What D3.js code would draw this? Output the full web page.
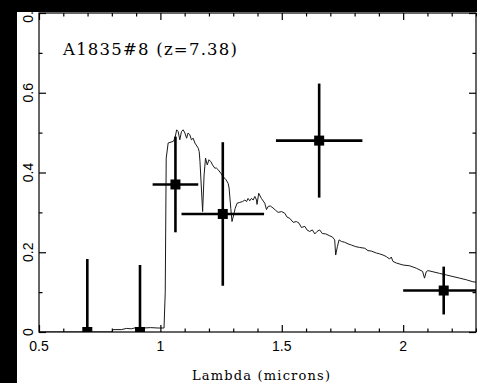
<!DOCTYPE html>
<html>
<head>
<meta charset="utf-8">
<script src="https://cdn.jsdelivr.net/npm/d3@7"></script>
<style>
  html, body { margin: 0; padding: 0; background: #fff; }
  svg { display: block; }
</style>
</head>
<body>
<svg id="chart" width="477" height="383"></svg>
<script>
// Model spectrum (wavelength in microns, flux)
const specLambda = [0.50,0.80,0.805,0.84,0.86,0.88,0.90,0.93,0.96,0.99,1.015,1.020,1.024,1.032,1.053,1.060,1.067,1.073,1.080,1.087,1.094,1.101,1.108,1.114,1.121,1.128,1.135,1.142,1.156,1.160,1.163,1.174,1.180,1.186,1.193,1.200,1.208,1.215,1.224,1.231,1.238,1.249,1.258,1.270,1.279,1.283,1.290,1.295,1.302,1.308,1.316,1.327,1.338,1.348,1.355,1.361,1.368,1.375,1.382,1.389,1.396,1.398,1.405,1.416,1.430,1.437,1.444,1.453,1.464,1.475,1.485,1.499,1.512,1.522,1.533,1.547,1.560,1.571,1.581,1.595,1.604,1.615,1.626,1.636,1.645,1.656,1.667,1.681,1.698,1.709,1.718,1.722,1.729,1.736,1.746,1.759,1.773,1.787,1.805,1.821,1.842,1.855,1.869,1.890,1.903,1.917,1.931,1.944,1.951,1.958,1.972,1.999,2.027,2.054,2.080,2.088,2.095,2.102,2.123,2.150,2.178,2.205,2.233,2.260,2.287,2.301];
const specFlux = [0.000,0.000,0.006,0.006,0.009,0.008,0.011,0.010,0.011,0.010,0.010,0.100,0.436,0.474,0.478,0.486,0.507,0.503,0.482,0.503,0.507,0.499,0.486,0.499,0.495,0.482,0.486,0.474,0.461,0.452,0.428,0.302,0.394,0.436,0.419,0.432,0.427,0.419,0.411,0.411,0.407,0.398,0.390,0.382,0.373,0.361,0.310,0.277,0.294,0.310,0.323,0.325,0.327,0.331,0.327,0.335,0.329,0.335,0.331,0.340,0.331,0.320,0.348,0.335,0.323,0.307,0.315,0.316,0.311,0.305,0.300,0.302,0.298,0.288,0.285,0.275,0.277,0.273,0.262,0.265,0.256,0.252,0.256,0.246,0.252,0.256,0.247,0.246,0.241,0.238,0.231,0.193,0.214,0.231,0.227,0.225,0.221,0.218,0.214,0.212,0.210,0.204,0.203,0.198,0.196,0.193,0.189,0.183,0.188,0.177,0.173,0.168,0.166,0.160,0.152,0.135,0.151,0.154,0.151,0.147,0.143,0.139,0.135,0.131,0.126,0.125];

// Photometric measurements
const photLambda = [0.699, 0.916, 1.062, 1.257, 1.654, 2.167];
const photFlux   = [0.000, 0.000, 0.370, 0.296, 0.480, 0.104];
const photFluxErr = [0.183, 0.168, 0.120, 0.180, 0.143, 0.060];
const photBandHalf = [0, 0, 0.094, 0.170, 0.178, 0.167];

// Axis ticks
const xMajor = [0.5, 1, 1.5, 2];
const xMajorLabels = ["0.5", "1", "1.5", "2"];
const yMajor = [0, 0.2, 0.4, 0.6, 0.8];
const yMajorLabels = ["0", "0.2", "0.4", "0.6", "0.8"];

const titleText = "A1835#8 (z=7.38)";
const xTitle = "Lambda (microns)";

const svg = d3.select("#chart");
const W = 477, H = 383;
const padL = 39, padR = 476, padT = 13, padB = 332;

svg.append("rect").attr("width", W).attr("height", H).attr("fill", "#fff");

const x = d3.scaleLinear().domain([0.5, 2.3]).range([padL, padR]);
const y = d3.scaleLinear().domain([0, 0.8]).range([padB, padT]);

const xMinor = d3.range(0.5, 2.301, 0.1).map(v => +v.toFixed(2)).filter(v => !xMajor.some(m => Math.abs(m - v) < 1e-6));
const yMinor = d3.range(0, 0.801, 0.1).map(v => +v.toFixed(2)).filter(v => !yMajor.some(m => Math.abs(m - v) < 1e-6));

svg.append("defs").append("clipPath").attr("id", "plotClip")
  .append("rect").attr("x", padL).attr("y", padT).attr("width", padR - padL).attr("height", padB - padT);

const plot = svg.append("g").attr("clip-path", "url(#plotClip)");

// spectrum
const line = d3.line().x((d, i) => x(specLambda[i])).y(d => y(d));
plot.append("path")
  .datum(specFlux)
  .attr("d", line)
  .attr("fill", "none")
  .attr("stroke", "#1a1a1a")
  .attr("stroke-width", 1)
  .attr("stroke-linejoin", "round");

// error bars and points
const pts = photLambda.map((l, i) => ({l, f: photFlux[i], e: photFluxErr[i], b: photBandHalf[i]}));
const eb = plot.append("g").attr("stroke", "#000").attr("stroke-width", 2.6);
eb.selectAll("line.v").data(pts).join("line")
  .attr("x1", d => x(d.l)).attr("x2", d => x(d.l))
  .attr("y1", d => y(d.f - d.e)).attr("y2", d => y(d.f + d.e));
eb.selectAll("line.h").data(pts.filter(d => d.b > 0)).join("line")
  .attr("x1", d => x(d.l - d.b)).attr("x2", d => x(d.l + d.b))
  .attr("y1", d => y(d.f)).attr("y2", d => y(d.f));
plot.selectAll("rect.pt").data(pts).join("rect")
  .attr("x", d => x(d.l) - 5).attr("y", d => y(d.f) - 5)
  .attr("width", 10).attr("height", 10).attr("fill", "#000");

// frame
svg.append("rect").attr("x", padL).attr("y", padT).attr("width", padR - padL).attr("height", padB - padT)
  .attr("fill", "none").attr("stroke", "#000").attr("stroke-width", 1.2);

// axes with inward ticks on all four sides
const axisStyle = g => {
  g.select(".domain").remove();
  g.selectAll("line").attr("stroke", "#000").attr("stroke-width", 1.2);
};
svg.append("g").attr("transform", `translate(0,${padB})`)
  .call(d3.axisTop(x).tickValues(xMajor).tickSize(7).tickFormat("")).call(axisStyle);
svg.append("g").attr("transform", `translate(0,${padB})`)
  .call(d3.axisTop(x).tickValues(xMinor).tickSize(3.5).tickFormat("")).call(axisStyle);
svg.append("g").attr("transform", `translate(0,${padT})`)
  .call(d3.axisBottom(x).tickValues(xMajor).tickSize(7).tickFormat("")).call(axisStyle);
svg.append("g").attr("transform", `translate(0,${padT})`)
  .call(d3.axisBottom(x).tickValues(xMinor).tickSize(3.5).tickFormat("")).call(axisStyle);
svg.append("g").attr("transform", `translate(${padL},0)`)
  .call(d3.axisRight(y).tickValues(yMajor).tickSize(7).tickFormat("")).call(axisStyle);
svg.append("g").attr("transform", `translate(${padL},0)`)
  .call(d3.axisRight(y).tickValues(yMinor).tickSize(3.5).tickFormat("")).call(axisStyle);
svg.append("g").attr("transform", `translate(${padR},0)`)
  .call(d3.axisLeft(y).tickValues(yMajor).tickSize(7).tickFormat("")).call(axisStyle);
svg.append("g").attr("transform", `translate(${padR},0)`)
  .call(d3.axisLeft(y).tickValues(yMinor).tickSize(3.5).tickFormat("")).call(axisStyle);

// tick labels
svg.append("g").selectAll("text").data(xMajor).join("text")
  .attr("x", d => x(d)).attr("y", 351)
  .attr("text-anchor", "middle")
  .attr("font-family", "Liberation Sans, Arial, sans-serif")
  .attr("font-size", 14)
  .text((d, i) => xMajorLabels[i]);

svg.append("g").selectAll("text").data(yMajor).join("text")
  .attr("transform", d => `translate(33,${y(d)}) rotate(-90)`)
  .attr("text-anchor", "middle")
  .attr("font-family", "Liberation Sans, Arial, sans-serif")
  .attr("font-size", 14)
  .text((d, i) => yMajorLabels[i]);

// titles (typewriter-style serif lettering)
svg.append("text").attr("x", 63).attr("y", 55)
  .attr("font-family", "DejaVu Serif, serif")
  .attr("font-size", 16.5)
  .attr("textLength", 174)
  .attr("lengthAdjust", "spacing")
  .attr("fill", "#000")
  .text(titleText);

svg.append("text").attr("x", 192).attr("y", 380)
  .attr("font-family", "DejaVu Serif, serif")
  .attr("font-size", 13)
  .attr("textLength", 138)
  .attr("lengthAdjust", "spacing")
  .attr("fill", "#000")
  .text(xTitle);

// dark border strips along the left and top edges
svg.append("rect").attr("x", 0).attr("y", 0).attr("width", 17).attr("height", H).attr("fill", "#000");
svg.append("rect").attr("x", 0).attr("y", 0).attr("width", W).attr("height", 12).attr("fill", "#000");
</script>
</body>
</html>
